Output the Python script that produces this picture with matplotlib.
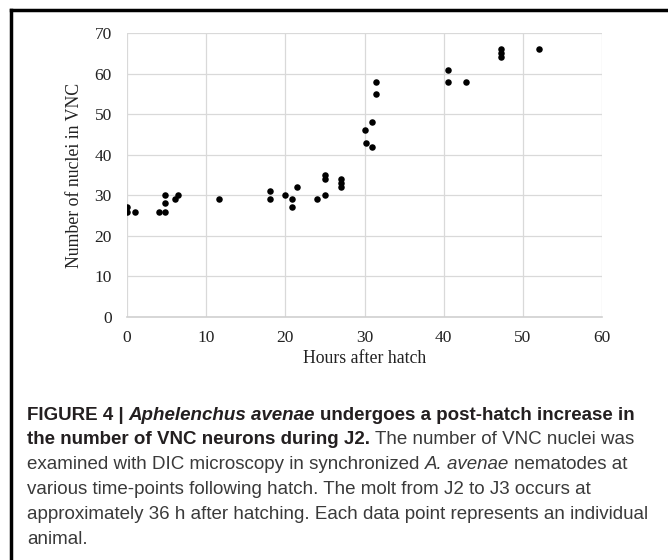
import matplotlib
matplotlib.use("Agg")
import matplotlib.pyplot as plt
from matplotlib.lines import Line2D

# hours after hatch / number of VNC nuclei, one entry per animal
hours = [0, 0, 1, 4, 4.8, 4.8, 4.8, 6, 6.5, 11.6, 18, 18, 20, 20.8, 20.8, 21.5,
         24, 25, 25, 25, 27, 27, 27, 30, 30.2, 31, 31, 31.4, 31.4,
         40.5, 40.5, 42.8, 47.2, 47.2, 47.2, 52]
nuclei = [27, 26, 26, 26, 26, 28, 30, 29, 30, 29, 31, 29, 30, 29, 27, 32,
          29, 30, 34, 35, 34, 33, 32, 46, 43, 42, 48, 55, 58,
          61, 58, 58, 66, 65, 64, 66]

x_ticks = [0, 10, 20, 30, 40, 50, 60]
y_ticks = [0, 10, 20, 30, 40, 50, 60, 70]

W, H = 668, 560
fig = plt.figure(figsize=(W / 100, H / 100), dpi=100)

# Axes placed in pixel terms
ax = fig.add_axes([127 / W, 1 - 317 / H, 475 / W, 284 / H])
ax.scatter(hours, nuclei, s=22, c="black", linewidths=0, zorder=3)
ax.set_xlim(0, 60)
ax.set_ylim(0, 70)
ax.set_xticks(x_ticks)
ax.set_yticks(y_ticks)
ax.grid(True, color="#d9d9d9", linewidth=0.9)
ax.set_axisbelow(True)
for side in ["top", "right", "left"]:
    ax.spines[side].set_visible(False)
ax.spines["bottom"].set_color("#d0d0d0")
ax.spines["bottom"].set_linewidth(1.2)
ax.tick_params(length=0, labelsize=12.5, labelcolor="#222222")
ax.tick_params(axis="y", pad=11)
ax.tick_params(axis="x", pad=9)
for lab in ax.get_xticklabels() + ax.get_yticklabels():
    lab.set_family("Liberation Serif")
ax.set_xlabel("Hours after hatch", family="Liberation Serif", fontsize=12.8,
              color="#222222", labelpad=3)
ax.set_ylabel("Number of nuclei in VNC", family="Liberation Serif", fontsize=12.8,
              color="#222222", labelpad=8)

# Frame lines (top and left)
fig.add_artist(Line2D([11 / W, 1], [1 - 10 / H, 1 - 10 / H], color="black", lw=2.5,
                      transform=fig.transFigure))
fig.add_artist(Line2D([11 / W, 11 / W], [0, 1 - 10 / H], color="black", lw=2.5,
                      transform=fig.transFigure))

# Caption
renderer = fig.canvas.get_renderer()
cap_font = "Liberation Sans"
bold_col = "#231f20"
reg_col = "#3a3a3a"

caption_lines = [
    [("FIGURE 4 |", "bold", "normal"), ("Aphelenchus avenae", "bold", "italic"),
     ("undergoes a post-hatch increase in", "bold", "normal")],
    [("the number of VNC neurons during J2.", "bold", "normal"),
     ("The number of VNC nuclei was", "normal", "normal")],
    [("examined with DIC microscopy in synchronized", "normal", "normal"),
     ("A. avenae", "normal", "italic"), ("nematodes at", "normal", "normal")],
    [("various time-points following hatch. The molt from J2 to J3 occurs at", "normal", "normal")],
    [("approximately 36 h after hatching. Each data point represents an individual", "normal", "normal")],
    [("animal.", "normal", "normal")],
]


def text_width(s, size, weight, style):
    t = fig.text(0, 0, s, fontsize=size, weight=weight, style=style, family=cap_font)
    w = t.get_window_extent(renderer).width
    t.remove()
    return w


def space_width(size, weight, style):
    return text_width("x x", size, weight, style) - text_width("xx", size, weight, style)


def line_width(runs, size):
    total = 0
    for i, (s, weight, style) in enumerate(runs):
        if i > 0:
            total += space_width(size, weight, style)
        total += text_width(s, size, weight, style)
    return total


# fit font size so the first line spans the measured width
base = 12
cap_size = base * 606 / line_width(caption_lines[0], base)

x_left = 27
y_first = 415
spacing = 24.8
for n, runs in enumerate(caption_lines):
    x = x_left
    y = y_first + n * spacing
    for i, (s, weight, style) in enumerate(runs):
        if i > 0:
            x += space_width(cap_size, weight, style)
        col = bold_col if weight == "bold" else reg_col
        t = fig.text(x / W, 1 - y / H, s, fontsize=cap_size, weight=weight, style=style,
                     family=cap_font, color=col, va="center", ha="left")
        x += t.get_window_extent(renderer).width

fig.savefig("out.png", dpi=100)
